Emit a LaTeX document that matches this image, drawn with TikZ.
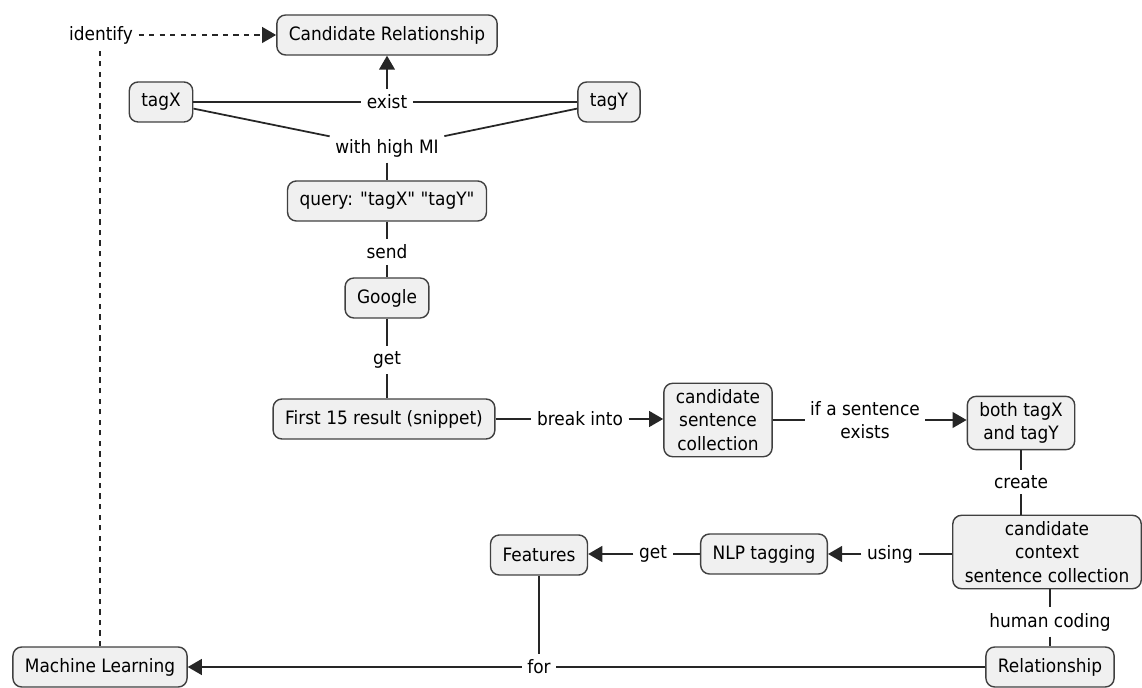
\documentclass[tikz,border=0pt]{standalone}
\usepackage{fontspec}
\setmainfont{DejaVu Sans}[FakeStretch=0.92,Ligatures=TeXOff]
\usetikzlibrary{arrows.meta}

\begin{document}
\begin{tikzpicture}[x=0.02cm,y=-0.02cm]
\tikzset{concept/.style = {shape=rectangle,rounded corners=5pt,draw=black!75,fill=black!6,line width=0.8pt,minimum height=0.8cm,inner xsep=0.24cm,align=center,font=\fontsize{10.5}{13.5}\selectfont}}
\tikzset{phrase/.style = {inner sep=3pt,align=center,font=\fontsize{10.5}{13.5}\selectfont}}
\tikzset{edge/.style = {-,draw=black!85,line width=1pt}}
\tikzset{link/.style = {edge,-{Triangle[length=8pt,width=9pt]}}}
\useasboundingbox (0,0) rectangle (1142,688);
% concepts
\node[concept] (cand) at (387,35) {Candidate Relationship};
\node[concept] (tagx) at (161,102) {tagX};
\node[concept] (tagy) at (609,102) {tagY};
\node[concept] (query) at (387,201) {query: "tagX" "tagY"};
\node[concept] (google) at (387,298) {Google};
\node[concept] (first) at (384,419) {First 15 result (snippet)};
\node[concept] (csc) at (718,420) {candidate\\sentence\\collection};
\node[concept] (both) at (1021,423) {both tagX\\and tagY};
\node[concept] (ccsc) at (1047,552) {candidate\\context\\sentence collection};
\node[concept] (nlp) at (764,554) {NLP tagging};
\node[concept] (feat) at (539,555) {Features};
\node[concept] (rel) at (1050,667) {Relationship};
\node[concept] (ml) at (100,667) {Machine Learning};
% linking phrases
\node[phrase] (identify) at (101,35) {identify};
\node[phrase] (exist) at (387,102) {exist};
\node[phrase] (highmi) at (387,148) {with high MI};
\node[phrase] (send) at (387,252) {send};
\node[phrase] (get) at (387,360) {get};
\node[phrase] (break) at (580,419) {break into};
\node[phrase] (ifexists) at (865,420) {if a sentence\\exists};
\node[phrase] (create) at (1021,482) {create};
\node[phrase] (using) at (890,554) {using};
\node[phrase] (getfeat) at (653,554) {get};
\node[phrase] (coding) at (1050,622) {human coding};
\node[phrase] (for) at (539,667) {for};
% edges
\draw[edge] (tagx) -- (exist);
\draw[edge] (exist) -- (tagy);
\draw[link] (exist) -- (cand);
\draw[edge] (tagx) -- (highmi);
\draw[edge] (tagy) -- (highmi);
\draw[edge] (highmi) -- (query);
\draw[edge] (query) -- (send);
\draw[edge] (send) -- (google);
\draw[edge] (google) -- (get);
\draw[edge] (get) -- (first.north -| get);
\draw[edge] (first) -- (break);
\draw[link] (break) -- (break -| csc.west);
\draw[edge] (csc) -- (ifexists);
\draw[link] (ifexists) -- (ifexists -| both.west);
\draw[edge] (both) -- (create);
\draw[edge] (create) -- (create |- ccsc.north);
\draw[edge] (ccsc.west |- using) -- (using);
\draw[link] (using) -- (nlp);
\draw[edge] (nlp) -- (getfeat);
\draw[link] (getfeat) -- (getfeat -| feat.east);
\draw[edge] (ccsc.south -| coding) -- (coding);
\draw[edge] (coding) -- (rel);
\draw[edge] (rel) -- (for);
\draw[edge] (feat) -- (for);
\draw[link] (for) -- (ml);
\draw[edge,dashed] (ml) -- (ml.north |- identify.south);
\draw[link,dashed] (identify) -- (cand);
\end{tikzpicture}
\end{document}
